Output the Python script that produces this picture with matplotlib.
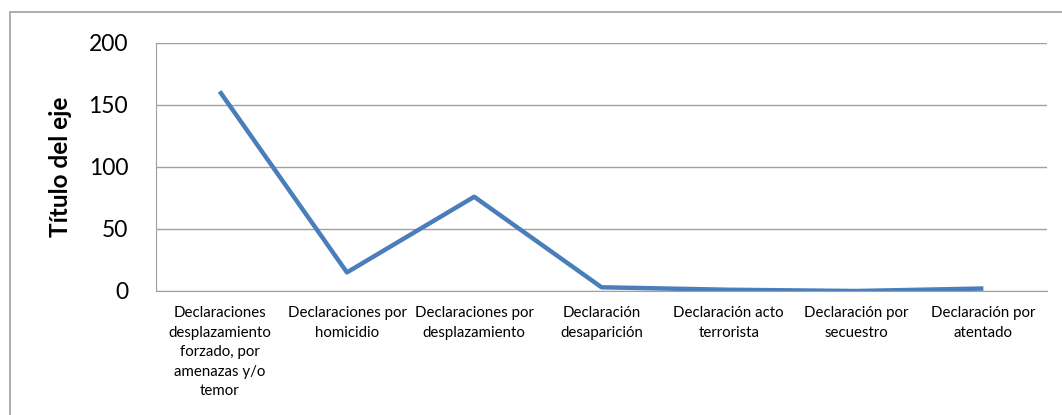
import matplotlib.pyplot as plt
from matplotlib.patches import Rectangle

categorias = [
    "Declaraciones\ndesplazamiento\nforzado, por\namenazas y/o\ntemor",
    "Declaraciones por\nhomicidio",
    "Declaraciones por\ndesplazamiento",
    "Declaración\ndesaparición",
    "Declaración acto\nterrorista",
    "Declaración por\nsecuestro",
    "Declaración por\natentado",
]
valores = [161, 15, 76, 3, 1, 0, 2]
y_ticks = [0, 50, 100, 150, 200]

plt.rcParams["font.family"] = ["Lato", "DejaVu Sans"]

fig = plt.figure(figsize=(10.62, 4.15), dpi=100)
ax = fig.add_axes([0.1469, 0.2988, 0.839, 0.5976])

x = list(range(len(categorias)))
ax.plot(x, valores, color="#4A7EBB", linewidth=3.2, solid_capstyle="butt")

ax.set_xlim(-0.5, len(categorias) - 0.5)
ax.set_ylim(0, 200)
ax.set_yticks(y_ticks)
ax.set_yticklabels([str(v) for v in y_ticks], fontsize=16.5)
ax.set_xticks(x)
ax.set_xticklabels(categorias, fontsize=10.8, linespacing=1.5)
ax.tick_params(axis="y", length=0, pad=20)
ax.tick_params(axis="x", length=0, pad=11)

ax.grid(axis="y", color="#A0A0A0", linewidth=1)
ax.set_axisbelow(True)
for s in ["top", "right"]:
    ax.spines[s].set_visible(False)
ax.spines["left"].set_color("#A0A0A0")
ax.spines["bottom"].set_color("#A0A0A0")

ax.set_ylabel("Título del eje", fontsize=17.5, fontweight="bold")
ax.yaxis.set_label_coords(-0.094, 0.5)

fig.patches.append(Rectangle((10 / 1062, -0.1), 1.2, (415 - 12) / 415 + 0.1,
                             transform=fig.transFigure, fill=False,
                             edgecolor="#A0A0A0", linewidth=1.2))

fig.savefig("out.png", dpi=100)
